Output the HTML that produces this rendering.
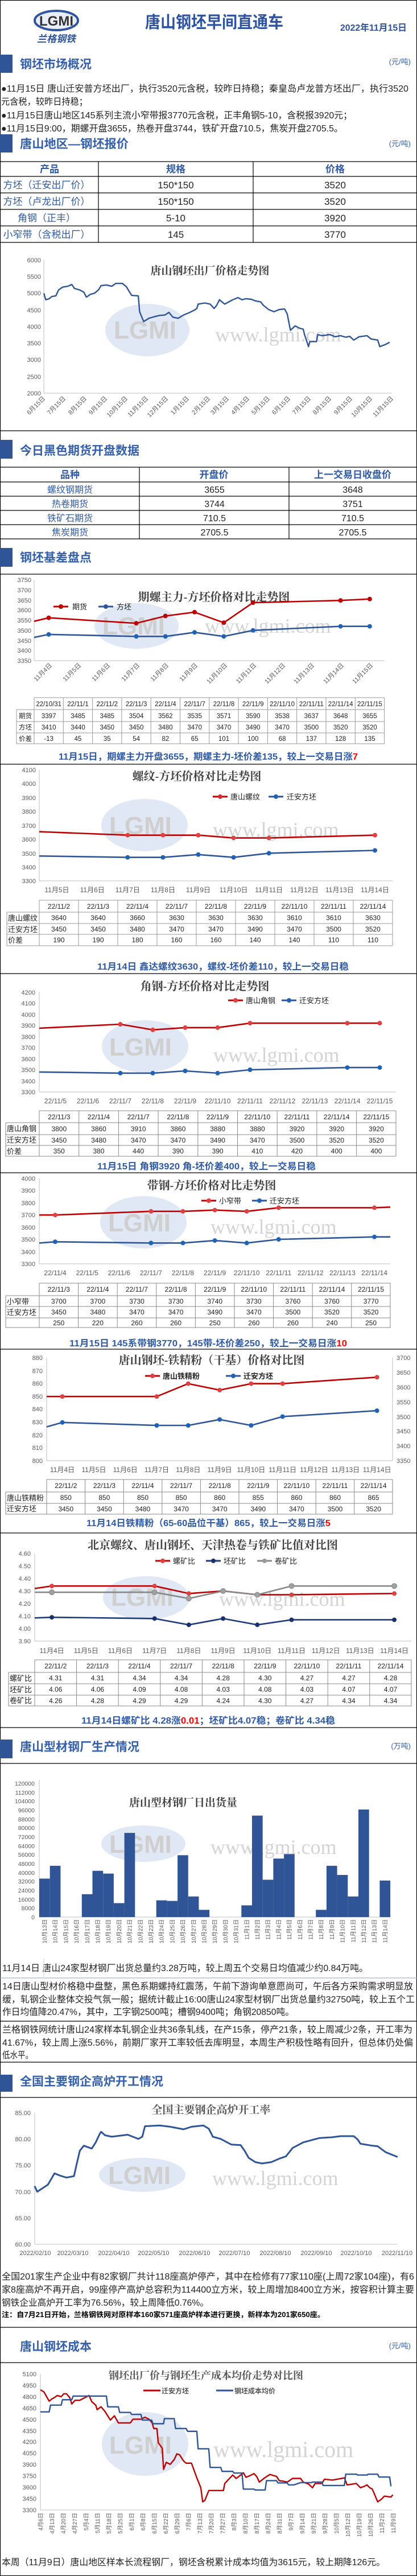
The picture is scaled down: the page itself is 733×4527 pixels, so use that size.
<!DOCTYPE html>
<html><head><meta charset="utf-8">
<style>
html,body{margin:0;padding:0;background:#fff;}
svg{display:block;}
text{font-family:"Liberation Sans","Noto Sans CJK SC",sans-serif;}
.ser{font-family:"Liberation Serif","Noto Serif CJK SC",serif;}
.tk{font-size:11px;fill:#595959;}
.tkr{font-size:11px;fill:#595959;text-anchor:end;}
.td{font-size:12px;fill:#222;text-anchor:middle;}
.tl{font-size:13px;fill:#222;}
.sec{font-size:21px;font-weight:bold;fill:#3460ad;}
.unit{font-size:13px;fill:#3460ad;text-anchor:end;}
.p{font-size:16px;fill:#222;}
.cap{font-size:16px;font-weight:bold;fill:#2f5aa8;}
.ttl{font-size:20px;fill:#404040;text-anchor:middle;font-weight:bold;}
.wm{font-family:"Liberation Serif",serif;font-size:36px;fill:#d4d4d4;}
.wl{font-size:44px;font-weight:bold;fill:#cfcfcf;}
.ax{stroke:#bfbfbf;stroke-width:1;fill:none;}
.gl{stroke:#9a9a9a;stroke-width:1;fill:none;}
.r{stroke:#c00000;stroke-width:2.6;fill:none;stroke-linejoin:round;}
.b{stroke:#2e5597;stroke-width:2.6;fill:none;stroke-linejoin:round;}
.hl{stroke:#000;stroke-width:1.2;}
</style></head>
<body>
<svg width="733" height="4527" viewBox="0 0 733 4527" xmlns="http://www.w3.org/2000/svg">
<rect x="0.5" y="0.5" width="732" height="4526" fill="#fff" stroke="#000" stroke-width="1.2"/>

<!-- header -->
<ellipse cx="99" cy="36" rx="38" ry="17" fill="#e8eef8" stroke="#2f55a0" stroke-width="4"/>
<text x="99" y="45" text-anchor="middle" style="font-size:24px;font-weight:bold;fill:#333">LGMI</text>
<text x="99" y="74" text-anchor="middle" style="font-size:17px;font-weight:bold;fill:#2f55a0;font-style:italic">兰格钢铁</text>
<text x="255" y="49" textLength="243" lengthAdjust="spacingAndGlyphs" style="font-size:29px;font-weight:bold;fill:#2e54a1">唐山钢坯早间直通车</text>
<text x="598" y="54" textLength="117" lengthAdjust="spacingAndGlyphs" style="font-size:16px;font-weight:bold;fill:#2e54a1">2022年11月15日</text>

<!-- section 1 -->
<rect x="0" y="96" width="22" height="32" fill="#2f5597"/>
<text class="sec" x="35" y="120" textLength="126" lengthAdjust="spacingAndGlyphs">钢坯市场概况</text>
<text class="unit" x="722" y="113">(元/吨)</text>
<text class="p" x="2" y="161" textLength="716" lengthAdjust="spacingAndGlyphs">●11月15日 唐山迁安普方坯出厂，执行3520元含税，较昨日持稳；秦皇岛卢龙普方坯出厂，执行3520</text>
<text class="p" x="2" y="184" textLength="152" lengthAdjust="spacingAndGlyphs">元含税，较昨日持稳；</text>
<text class="p" x="2" y="208" textLength="617" lengthAdjust="spacingAndGlyphs">●11月15日唐山地区145系列主流小窄带报3770元含税，正丰角钢5-10，含税报3920元；</text>
<text class="p" x="2" y="231" textLength="601" lengthAdjust="spacingAndGlyphs">●11月15日9:00，期螺开盘3655，热卷开盘3744，铁矿开盘710.5，焦炭开盘2705.5。</text>

<rect x="0" y="236" width="22" height="32" fill="#2f5597"/>
<text class="sec" x="35" y="260" textLength="191" lengthAdjust="spacingAndGlyphs">唐山地区—钢坯报价</text>
<text class="unit" x="722" y="257">(元/吨)</text>

<!-- table 1 -->
<g>
<line class="hl" x1="0" y1="284" x2="733" y2="284"/>
<line class="hl" x1="0" y1="310" x2="733" y2="310"/>
<line class="hl" x1="0" y1="339" x2="733" y2="339"/>
<line class="hl" x1="0" y1="368" x2="733" y2="368"/>
<line class="hl" x1="0" y1="397" x2="733" y2="397"/>
<line class="hl" x1="0" y1="426" x2="733" y2="426"/>
<line class="hl" x1="173" y1="284" x2="173" y2="426"/>
<line class="hl" x1="445" y1="284" x2="445" y2="426"/>
<g style="font-size:17px;font-weight:bold;fill:#2f5aa8" text-anchor="middle">
<text x="87" y="303">产品</text><text x="309" y="303">规格</text><text x="589" y="303">价格</text></g>
<g style="font-size:17px;fill:#2f5aa8" text-anchor="middle">
<text x="82" y="331">方坯（迁安出厂价）</text><text x="82" y="360">方坯（卢龙出厂价）</text>
<text x="82" y="389">角钢（正丰）</text><text x="82" y="418">小窄带（含税出厂）</text></g>
<g style="font-size:17px;fill:#222" text-anchor="middle">
<text x="309" y="331">150*150</text><text x="309" y="360">150*150</text><text x="309" y="389">5-10</text><text x="309" y="418">145</text>
<text x="589" y="331">3520</text><text x="589" y="360">3520</text><text x="589" y="389">3920</text><text x="589" y="418">3770</text></g>
</g>

<!-- chart 1 -->
<text class="ttl ser" x="369" y="482" style="font-size:19px">唐山钢坯出厂价格走势图</text>
<ellipse cx="259" cy="580" rx="74" ry="46" fill="#dfe8f4"/>
<text class="wl" x="200" y="595">LGMI</text>
<text class="wm" x="378" y="600">www.lgmi.com</text>
<line class="ax" x1="77" y1="457" x2="77" y2="691"/>
<line class="ax" x1="77" y1="691" x2="689" y2="691"/>
<g class="tkr">
<text x="72" y="461">6000</text><text x="72" y="490">5500</text><text x="72" y="519">5000</text><text x="72" y="549">4500</text><text x="72" y="578">4000</text><text x="72" y="607">3500</text><text x="72" y="636">3000</text><text x="72" y="666">2500</text><text x="72" y="695">2000</text></g>
<polyline style="stroke:#2e5597;stroke-width:2.4;fill:none;stroke-linejoin:round" points="77.1,515.3 80.4,526.8 86.5,524.9 91.2,521 98.2,519.9 102.9,509.6 109.9,504.6 119.2,503.1 126.2,500 130.9,506.9 140.3,509.6 147.3,513.4 151.9,522.2 159,517.2 166,515.3 173,509.6 177.7,501.9 187,500.8 196.4,503.1 203.4,498.1 215.1,498.1 222.1,503.8 226.7,511.5 231.4,519.1 243.1,519.9 245.4,547.8 252.5,565.1 261.8,559.3 271.2,556.6 280.5,554.3 289.9,553.6 296.9,549 303.9,557.4 313.2,559.3 322.6,553.6 331.9,549.8 341.3,545.2 346,542.1 348.3,534.4 360,532.5 369.3,534.4 376.3,542.1 381,536.4 385.7,526.8 395,534.4 402.1,530.6 409.1,526.8 418.4,523 425.4,526.8 432.4,524.9 441.8,526 448.8,528.7 458.2,530.6 462.8,536.4 472.2,544 481.5,547.8 490.9,544 500.2,542.9 504.9,551.7 510.5,580.4 518.9,572.7 525.9,576.5 533,578.5 535.3,588 542.3,609.1 544.6,600.3 556.3,600.3 558.7,588 565.7,589.9 579.7,588 589.1,591.8 598.4,589.9 607.8,592.6 614.8,591.1 621.8,597.6 631.1,591.8 645.2,589.9 652.2,595.7 663.9,597.6 667.6,609.1 677.9,605.2 684.9,601.4"/>
<g class="tk" text-anchor="end">
<text transform="translate(80,701) rotate(-45)">6月15日</text>
<text transform="translate(116,701) rotate(-45)">7月15日</text>
<text transform="translate(153,701) rotate(-45)">8月15日</text>
<text transform="translate(189,701) rotate(-45)">9月15日</text>
<text transform="translate(225,701) rotate(-45)">10月15日</text>
<text transform="translate(261,701) rotate(-45)">11月15日</text>
<text transform="translate(296,701) rotate(-45)">12月15日</text>
<text transform="translate(333,701) rotate(-45)">1月15日</text>
<text transform="translate(370,701) rotate(-45)">2月15日</text>
<text transform="translate(403,701) rotate(-45)">3月15日</text>
<text transform="translate(439,701) rotate(-45)">4月15日</text>
<text transform="translate(475,701) rotate(-45)">5月15日</text>
<text transform="translate(511,701) rotate(-45)">6月15日</text>
<text transform="translate(547,701) rotate(-45)">7月15日</text>
<text transform="translate(583,701) rotate(-45)">8月15日</text>
<text transform="translate(620,701) rotate(-45)">9月15日</text>
<text transform="translate(655,701) rotate(-45)">10月15日</text>
<text transform="translate(692,701) rotate(-45)">11月15日</text>
</g>
<line class="hl" x1="0" y1="757" x2="733" y2="757"/>

<!-- section futures -->
<rect x="0" y="773" width="22" height="33" fill="#2f5597"/>
<text class="sec" x="35" y="799" textLength="210" lengthAdjust="spacingAndGlyphs">今日黑色期货开盘数据</text>
<g>
<line class="hl" x1="0" y1="821" x2="733" y2="821"/>
<line class="hl" x1="0" y1="847" x2="733" y2="847"/>
<line class="hl" x1="0" y1="872" x2="733" y2="872"/>
<line class="hl" x1="0" y1="897" x2="733" y2="897"/>
<line class="hl" x1="0" y1="922" x2="733" y2="922"/>
<line class="hl" x1="0" y1="947" x2="733" y2="947"/>
<line class="hl" x1="245" y1="821" x2="245" y2="947"/>
<line class="hl" x1="508" y1="821" x2="508" y2="947"/>
<g style="font-size:17px;font-weight:bold;fill:#2f5aa8" text-anchor="middle">
<text x="123" y="840">品种</text><text x="376" y="840">开盘价</text><text x="620" y="840">上一交易日收盘价</text></g>
<g style="font-size:16px;fill:#2f5aa8" text-anchor="middle">
<text x="123" y="866">螺纹钢期货</text><text x="123" y="891">热卷期货</text><text x="123" y="916">铁矿石期货</text><text x="123" y="941">焦炭期货</text></g>
<g style="font-size:16px;fill:#222" text-anchor="middle">
<text x="377" y="866">3655</text><text x="377" y="891">3744</text><text x="377" y="916">710.5</text><text x="377" y="941">2705.5</text>
<text x="620" y="866">3648</text><text x="620" y="891">3751</text><text x="620" y="916">710.5</text><text x="620" y="941">2705.5</text></g>
</g>

<rect x="0" y="963" width="22" height="33" fill="#2f5597"/>
<text class="sec" x="35" y="987" textLength="126" lengthAdjust="spacingAndGlyphs">钢坯基差盘点</text>
<line class="hl" x1="0" y1="1009" x2="733" y2="1009"/>

<!-- chart 3 期螺-方坯 -->
<ellipse cx="240" cy="1100" rx="74" ry="40" fill="#dfe8f4"/>
<text class="wl" x="180" y="1115">LGMI</text>
<text class="wm" x="360" y="1112">www.lgmi.com</text>
<text class="ttl ser" x="376" y="1056" style="font-size:20px">期螺主力-方坯价格对比走势图</text>
<line x1="94" y1="1066" x2="120" y2="1066" stroke="#c00000" stroke-width="3"/><circle cx="107" cy="1066" r="4" fill="#c00000"/>
<text class="tl" x="127" y="1071">期货</text>
<line x1="173" y1="1066" x2="199" y2="1066" stroke="#2e5597" stroke-width="3"/><circle cx="186" cy="1066" r="4" fill="#2e5597"/>
<text class="tl" x="205" y="1071">方坯</text>
<line class="ax" x1="60" y1="1019" x2="60" y2="1161"/>
<line class="ax" x1="60" y1="1161" x2="676" y2="1161"/>
<g class="tkr"><text x="55" y="1023">3750</text><text x="55" y="1041">3700</text><text x="55" y="1059">3650</text><text x="55" y="1076">3600</text><text x="55" y="1094">3550</text><text x="55" y="1112">3500</text><text x="55" y="1130">3450</text><text x="55" y="1147">3400</text><text x="55" y="1165">3350</text></g>
<polyline class="r" points="60,1091.8 85.6,1085.7 239.5,1095.3 290.8,1082.5 342,1075.8 393.4,1094.3 444.7,1059.1 598.6,1055.2 649.9,1052.7"/>
<polyline class="b" points="60,1120.2 85.6,1114.9 239.5,1118.4 290.8,1118.4 342,1111.3 393.4,1118.4 444.7,1107.8 598.6,1100.7 649.9,1100.7"/>
<g fill="#c00000"><circle cx="85.6" cy="1085.7" r="4"/><circle cx="239.5" cy="1095.3" r="4"/><circle cx="290.8" cy="1082.5" r="4"/><circle cx="342" cy="1075.8" r="4"/><circle cx="393.4" cy="1094.3" r="4"/><circle cx="444.7" cy="1059.1" r="4"/><circle cx="598.6" cy="1055.2" r="4"/><circle cx="649.9" cy="1052.7" r="4"/></g>
<g fill="#1f63b8"><circle cx="85.6" cy="1114.9" r="4"/><circle cx="239.5" cy="1118.4" r="4"/><circle cx="290.8" cy="1118.4" r="4"/><circle cx="342" cy="1111.3" r="4"/><circle cx="393.4" cy="1118.4" r="4"/><circle cx="444.7" cy="1107.8" r="4"/><circle cx="598.6" cy="1100.7" r="4"/><circle cx="649.9" cy="1100.7" r="4"/></g>
<g class="tk" text-anchor="end">
<text transform="translate(92,1170) rotate(-45)">11月4日</text><text transform="translate(143,1170) rotate(-45)">11月5日</text><text transform="translate(194,1170) rotate(-45)">11月6日</text><text transform="translate(246,1170) rotate(-45)">11月7日</text><text transform="translate(297,1170) rotate(-45)">11月8日</text><text transform="translate(348,1170) rotate(-45)">11月9日</text><text transform="translate(400,1170) rotate(-45)">11月10日</text><text transform="translate(451,1170) rotate(-45)">11月11日</text><text transform="translate(502,1170) rotate(-45)">11月12日</text><text transform="translate(553,1170) rotate(-45)">11月13日</text><text transform="translate(605,1170) rotate(-45)">11月14日</text><text transform="translate(656,1170) rotate(-45)">11月15日</text></g>
<g class="gl">
<line x1="60" y1="1226" x2="676" y2="1226"/><line x1="29" y1="1247" x2="676" y2="1247"/><line x1="29" y1="1268" x2="676" y2="1268"/><line x1="29" y1="1288" x2="676" y2="1288"/><line x1="29" y1="1307" x2="676" y2="1307"/>
<line x1="29" y1="1247" x2="29" y2="1307"/><line x1="60" y1="1226" x2="60" y2="1307"/><line x1="111.3" y1="1226" x2="111.3" y2="1307"/><line x1="162.6" y1="1226" x2="162.6" y2="1307"/><line x1="213.9" y1="1226" x2="213.9" y2="1307"/><line x1="265.2" y1="1226" x2="265.2" y2="1307"/><line x1="316.5" y1="1226" x2="316.5" y2="1307"/><line x1="367.8" y1="1226" x2="367.8" y2="1307"/><line x1="419.1" y1="1226" x2="419.1" y2="1307"/><line x1="470.4" y1="1226" x2="470.4" y2="1307"/><line x1="521.7" y1="1226" x2="521.7" y2="1307"/><line x1="573" y1="1226" x2="573" y2="1307"/><line x1="624.3" y1="1226" x2="624.3" y2="1307"/><line x1="675.6" y1="1226" x2="675.6" y2="1307"/></g>
<g class="td" style="font-size:11.5px">
<text x="85.7" y="1241">22/10/31</text><text x="137" y="1241">22/11/1</text><text x="188.3" y="1241">22/11/2</text><text x="239.6" y="1241">22/11/3</text><text x="290.9" y="1241">22/11/4</text><text x="342.2" y="1241">22/11/7</text><text x="393.5" y="1241">22/11/8</text><text x="444.8" y="1241">22/11/9</text><text x="496.1" y="1241">22/11/10</text><text x="547.4" y="1241">22/11/11</text><text x="598.7" y="1241">22/11/14</text><text x="650" y="1241">22/11/15</text>
<text x="85.7" y="1262">3397</text><text x="137" y="1262">3485</text><text x="188.3" y="1262">3485</text><text x="239.6" y="1262">3504</text><text x="290.9" y="1262">3562</text><text x="342.2" y="1262">3535</text><text x="393.5" y="1262">3571</text><text x="444.8" y="1262">3590</text><text x="496.1" y="1262">3538</text><text x="547.4" y="1262">3637</text><text x="598.7" y="1262">3648</text><text x="650" y="1262">3655</text>
<text x="85.7" y="1282">3410</text><text x="137" y="1282">3440</text><text x="188.3" y="1282">3450</text><text x="239.6" y="1282">3450</text><text x="290.9" y="1282">3480</text><text x="342.2" y="1282">3470</text><text x="393.5" y="1282">3470</text><text x="444.8" y="1282">3490</text><text x="496.1" y="1282">3470</text><text x="547.4" y="1282">3500</text><text x="598.7" y="1282">3520</text><text x="650" y="1282">3520</text>
<text x="85.7" y="1302">-13</text><text x="137" y="1302">45</text><text x="188.3" y="1302">35</text><text x="239.6" y="1302">54</text><text x="290.9" y="1302">82</text><text x="342.2" y="1302">65</text><text x="393.5" y="1302">101</text><text x="444.8" y="1302">100</text><text x="496.1" y="1302">68</text><text x="547.4" y="1302">137</text><text x="598.7" y="1302">128</text><text x="650" y="1302">135</text>
<text x="44.5" y="1262">期货</text><text x="44.5" y="1282">方坯</text><text x="44.5" y="1302">价差</text></g>
<text class="cap" x="103" y="1335" textLength="526" lengthAdjust="spacingAndGlyphs">11月15日，期螺主力开盘3655，期螺主力-坯价差135，较上一交易日涨<tspan fill="#ff0000">7</tspan></text>
<line class="hl" x1="0" y1="1343" x2="733" y2="1343"/>

<!-- chart 4 螺纹 -->
<ellipse cx="254" cy="1450" rx="76" ry="46" fill="#dfe8f4"/>
<text class="wl" x="192" y="1466">LGMI</text>
<text class="wm" x="374" y="1470">www.lgmi.com</text>
<text class="ttl ser" x="346" y="1371" style="font-size:20px">螺纹-方坯价格对比走势图</text>
<line x1="374" y1="1400" x2="400" y2="1400" stroke="#c00000" stroke-width="3"/><circle cx="387" cy="1400" r="4" fill="#d03030"/>
<text class="tl" x="405" y="1405">唐山螺纹</text>
<line x1="472" y1="1400" x2="498" y2="1400" stroke="#2e5597" stroke-width="3"/><circle cx="485" cy="1400" r="4" fill="#1f63b8"/>
<text class="tl" x="504" y="1405">迁安方坯</text>
<line class="ax" x1="69" y1="1353" x2="69" y2="1548"/>
<line class="ax" x1="69" y1="1548" x2="690" y2="1548"/>
<g class="tkr"><text x="63" y="1357">4100</text><text x="63" y="1381">4000</text><text x="63" y="1406">3900</text><text x="63" y="1430">3800</text><text x="63" y="1455">3700</text><text x="63" y="1479">3600</text><text x="63" y="1504">3500</text><text x="63" y="1528">3400</text><text x="63" y="1552">3300</text></g>
<polyline class="r" points="69,1461.6 224.3,1467.7 286.4,1467.7 348.5,1467.7 410.6,1472.6 472.7,1472.6 659,1467.7"/>
<polyline class="b" points="69,1504.3 224.3,1506.7 286.4,1506.7 348.5,1501.8 410.6,1506.7 472.7,1499.4 659,1494.5"/>
<g fill="#e04040"><circle cx="224.3" cy="1467.7" r="4"/><circle cx="286.4" cy="1467.7" r="4"/><circle cx="348.5" cy="1467.7" r="4"/><circle cx="410.6" cy="1472.6" r="4"/><circle cx="472.7" cy="1472.6" r="4"/><circle cx="659" cy="1467.7" r="4"/></g>
<g fill="#1f63b8"><circle cx="224.3" cy="1506.7" r="4"/><circle cx="286.4" cy="1506.7" r="4"/><circle cx="348.5" cy="1501.8" r="4"/><circle cx="410.6" cy="1506.7" r="4"/><circle cx="472.7" cy="1499.4" r="4"/><circle cx="659" cy="1494.5" r="4"/></g>
<g class="tk" text-anchor="middle" style="font-size:12px"><text x="100" y="1568">11月5日</text><text x="162.2" y="1568">11月6日</text><text x="224.3" y="1568">11月7日</text><text x="286.4" y="1568">11月8日</text><text x="348.5" y="1568">11月9日</text><text x="410.6" y="1568">11月10日</text><text x="472.7" y="1568">11月11日</text><text x="534.8" y="1568">11月12日</text><text x="596.9" y="1568">11月13日</text><text x="659" y="1568">11月14日</text></g>
<g class="gl">
<line x1="69" y1="1582" x2="690" y2="1582"/><line x1="12" y1="1603" x2="690" y2="1603"/><line x1="12" y1="1623" x2="690" y2="1623"/><line x1="12" y1="1642" x2="690" y2="1642"/><line x1="12" y1="1662" x2="690" y2="1662"/>
<line x1="12" y1="1603" x2="12" y2="1662"/><line x1="69" y1="1582" x2="69" y2="1662"/><line x1="138" y1="1582" x2="138" y2="1662"/><line x1="207" y1="1582" x2="207" y2="1662"/><line x1="276" y1="1582" x2="276" y2="1662"/><line x1="345" y1="1582" x2="345" y2="1662"/><line x1="414" y1="1582" x2="414" y2="1662"/><line x1="483" y1="1582" x2="483" y2="1662"/><line x1="552" y1="1582" x2="552" y2="1662"/><line x1="621" y1="1582" x2="621" y2="1662"/><line x1="690" y1="1582" x2="690" y2="1662"/></g>
<g class="td">
<text x="103.5" y="1597">22/11/2</text><text x="172.5" y="1597">22/11/3</text><text x="241.5" y="1597">22/11/4</text><text x="310.5" y="1597">22/11/7</text><text x="379.5" y="1597">22/11/8</text><text x="448.5" y="1597">22/11/9</text><text x="517.5" y="1597">22/11/10</text><text x="586.5" y="1597">22/11/11</text><text x="655.5" y="1597">22/11/14</text>
<text x="103.5" y="1617">3640</text><text x="172.5" y="1617">3640</text><text x="241.5" y="1617">3660</text><text x="310.5" y="1617">3630</text><text x="379.5" y="1617">3630</text><text x="448.5" y="1617">3630</text><text x="517.5" y="1617">3610</text><text x="586.5" y="1617">3610</text><text x="655.5" y="1617">3630</text>
<text x="103.5" y="1637">3450</text><text x="172.5" y="1637">3450</text><text x="241.5" y="1637">3480</text><text x="310.5" y="1637">3470</text><text x="379.5" y="1637">3470</text><text x="448.5" y="1637">3490</text><text x="517.5" y="1637">3470</text><text x="586.5" y="1637">3500</text><text x="655.5" y="1637">3520</text>
<text x="103.5" y="1656">190</text><text x="172.5" y="1656">190</text><text x="241.5" y="1656">180</text><text x="310.5" y="1656">160</text><text x="379.5" y="1656">160</text><text x="448.5" y="1656">140</text><text x="517.5" y="1656">140</text><text x="586.5" y="1656">110</text><text x="655.5" y="1656">110</text></g>
<g class="tl"><text x="14" y="1618">唐山螺纹</text><text x="14" y="1638">迁安方坯</text><text x="14" y="1657">价差</text></g>
<text class="cap" x="171" y="1704" textLength="442" lengthAdjust="spacingAndGlyphs">11月14日 鑫达螺纹3630，螺纹-坯价差110，较上一交易日稳</text>
<line class="hl" x1="0" y1="1711" x2="733" y2="1711"/>

<!-- chart 5 角钢 -->
<ellipse cx="255" cy="1839" rx="76" ry="46" fill="#dfe8f4"/>
<text class="wl" x="192" y="1855">LGMI</text>
<text class="wm" x="375" y="1866">www.lgmi.com</text>
<text class="ttl ser" x="360" y="1740" style="font-size:20px">角钢-方坯价格对比走势图</text>
<line x1="401" y1="1758" x2="427" y2="1758" stroke="#c00000" stroke-width="3"/><circle cx="414" cy="1758" r="4" fill="#e04040"/>
<text class="tl" x="432" y="1763">唐山角钢</text>
<line x1="495" y1="1758" x2="521" y2="1758" stroke="#2e5597" stroke-width="3"/><circle cx="508" cy="1758" r="4" fill="#1f63b8"/>
<text class="tl" x="526" y="1763">迁安方坯</text>
<line class="ax" x1="69" y1="1743" x2="69" y2="1919"/>
<line class="ax" x1="69" y1="1919" x2="696" y2="1919"/>
<g class="tkr"><text x="62" y="1748">4200</text><text x="62" y="1767">4100</text><text x="62" y="1787">4000</text><text x="62" y="1806">3900</text><text x="62" y="1826">3800</text><text x="62" y="1845">3700</text><text x="62" y="1865">3600</text><text x="62" y="1884">3500</text><text x="62" y="1904">3400</text><text x="62" y="1923">3300</text></g>
<polyline class="r" points="69,1806.9 211.5,1800 268.5,1809.8 325.5,1805.9 382.5,1805.9 439.5,1798.1 610.5,1798.1 667.5,1798.1"/>
<polyline class="b" points="69,1883.9 211.5,1885.9 268.5,1885.9 325.5,1882 382.5,1885.9 439.5,1880 610.5,1876.1 667.5,1876.1"/>
<g fill="#e04040"><circle cx="211.5" cy="1800" r="4"/><circle cx="268.5" cy="1809.8" r="4"/><circle cx="325.5" cy="1805.9" r="4"/><circle cx="382.5" cy="1805.9" r="4"/><circle cx="439.5" cy="1798.1" r="4"/><circle cx="610.5" cy="1798.1" r="4"/><circle cx="667.5" cy="1798.1" r="4"/></g>
<g fill="#1f63b8"><circle cx="211.5" cy="1885.9" r="4"/><circle cx="268.5" cy="1885.9" r="4"/><circle cx="325.5" cy="1882" r="4"/><circle cx="382.5" cy="1885.9" r="4"/><circle cx="439.5" cy="1880" r="4"/><circle cx="610.5" cy="1876.1" r="4"/><circle cx="667.5" cy="1876.1" r="4"/></g>
<g class="tk" text-anchor="middle" style="font-size:12px"><text x="97.5" y="1939">22/11/5</text><text x="154.5" y="1939">22/11/6</text><text x="211.5" y="1939">22/11/7</text><text x="268.5" y="1939">22/11/8</text><text x="325.5" y="1939">22/11/9</text><text x="382.5" y="1939">22/11/10</text><text x="439.5" y="1939">22/11/11</text><text x="496.5" y="1939">22/11/12</text><text x="553.5" y="1939">22/11/13</text><text x="610.5" y="1939">22/11/14</text><text x="667.5" y="1939">22/11/15</text></g>
<g class="gl" style="stroke:#8a8a8a">
<line x1="69" y1="1952" x2="696" y2="1952"/><line x1="10" y1="1973" x2="696" y2="1973"/><line x1="10" y1="1994" x2="696" y2="1994"/><line x1="10" y1="2013" x2="696" y2="2013"/><line x1="10" y1="2032" x2="696" y2="2032"/>
<line x1="10" y1="1973" x2="10" y2="2032"/><line x1="69" y1="1952" x2="69" y2="2032"/><line x1="138.7" y1="1952" x2="138.7" y2="2032"/><line x1="208.4" y1="1952" x2="208.4" y2="2032"/><line x1="278.1" y1="1952" x2="278.1" y2="2032"/><line x1="347.8" y1="1952" x2="347.8" y2="2032"/><line x1="417.5" y1="1952" x2="417.5" y2="2032"/><line x1="487.2" y1="1952" x2="487.2" y2="2032"/><line x1="556.9" y1="1952" x2="556.9" y2="2032"/><line x1="626.6" y1="1952" x2="626.6" y2="2032"/><line x1="696" y1="1952" x2="696" y2="2032"/></g>
<g class="td">
<text x="103.8" y="1967">22/11/3</text><text x="173.5" y="1967">22/11/4</text><text x="243.2" y="1967">22/11/7</text><text x="312.9" y="1967">22/11/8</text><text x="382.6" y="1967">22/11/9</text><text x="452.3" y="1967">22/11/10</text><text x="522" y="1967">22/11/11</text><text x="591.7" y="1967">22/11/14</text><text x="661.4" y="1967">22/11/15</text>
<text x="103.8" y="1988">3800</text><text x="173.5" y="1988">3860</text><text x="243.2" y="1988">3910</text><text x="312.9" y="1988">3860</text><text x="382.6" y="1988">3880</text><text x="452.3" y="1988">3880</text><text x="522" y="1988">3920</text><text x="591.7" y="1988">3920</text><text x="661.4" y="1988">3920</text>
<text x="103.8" y="2008">3450</text><text x="173.5" y="2008">3480</text><text x="243.2" y="2008">3470</text><text x="312.9" y="2008">3470</text><text x="382.6" y="2008">3490</text><text x="452.3" y="2008">3470</text><text x="522" y="2008">3500</text><text x="591.7" y="2008">3520</text><text x="661.4" y="2008">3520</text>
<text x="103.8" y="2027">350</text><text x="173.5" y="2027">380</text><text x="243.2" y="2027">440</text><text x="312.9" y="2027">390</text><text x="382.6" y="2027">390</text><text x="452.3" y="2027">410</text><text x="522" y="2027">420</text><text x="591.7" y="2027">400</text><text x="661.4" y="2027">400</text></g>
<g class="tl"><text x="12" y="1988">唐山角钢</text><text x="12" y="2008">迁安方坯</text><text x="12" y="2028">价差</text></g>
<text class="cap" x="171" y="2055" textLength="384" lengthAdjust="spacingAndGlyphs">11月15日 角钢3920 角-坯价差400，较上一交易日稳</text>
<line class="hl" x1="0" y1="2061" x2="733" y2="2061"/>

<!-- chart 6 带钢 -->
<ellipse cx="252" cy="2148" rx="76" ry="46" fill="#dfe8f4"/>
<text class="wl" x="190" y="2164">LGMI</text>
<text class="wm" x="370" y="2168">www.lgmi.com</text>
<text class="ttl ser" x="372" y="2090" style="font-size:20px">带钢-方坯价格对比走势图</text>
<line x1="354" y1="2110" x2="380" y2="2110" stroke="#c00000" stroke-width="3"/><circle cx="367" cy="2110" r="4" fill="#e04040"/>
<text class="tl" x="385" y="2115">小窄带</text>
<line x1="443" y1="2110" x2="469" y2="2110" stroke="#2e5597" stroke-width="3"/><circle cx="456" cy="2110" r="4" fill="#1f63b8"/>
<text class="tl" x="474" y="2115">迁安方坯</text>
<line class="ax" x1="69" y1="2071" x2="69" y2="2221"/>
<line class="ax" x1="69" y1="2221" x2="686" y2="2221"/>
<g class="tkr"><text x="62" y="2075">4000</text><text x="62" y="2096">3900</text><text x="62" y="2118">3800</text><text x="62" y="2139">3700</text><text x="62" y="2161">3600</text><text x="62" y="2182">3500</text><text x="62" y="2204">3400</text><text x="62" y="2225">3300</text></g>
<polyline class="r" points="69,2135.2 97,2135.2 265.4,2128.8 321.5,2128.8 377.6,2126.6 433.7,2128.8 489.8,2122.4 658.1,2122.4 686,2121.3"/>
<polyline class="b" points="69,2184.4 97,2182.3 265.4,2184.4 321.5,2184.4 377.6,2180.1 433.7,2184.4 489.8,2178 658.1,2173.7 686,2173.7"/>
<g fill="#e04040"><circle cx="97" cy="2135.2" r="4"/><circle cx="265.4" cy="2128.8" r="4"/><circle cx="321.5" cy="2128.8" r="4"/><circle cx="377.6" cy="2126.6" r="4"/><circle cx="433.7" cy="2128.8" r="4"/><circle cx="489.8" cy="2122.4" r="4"/><circle cx="658.1" cy="2122.4" r="4"/></g>
<g fill="#1f63b8"><circle cx="97" cy="2182.3" r="4"/><circle cx="265.4" cy="2184.4" r="4"/><circle cx="321.5" cy="2184.4" r="4"/><circle cx="377.6" cy="2180.1" r="4"/><circle cx="433.7" cy="2184.4" r="4"/><circle cx="489.8" cy="2178" r="4"/><circle cx="658.1" cy="2173.7" r="4"/></g>
<g class="tk" text-anchor="middle" style="font-size:12px"><text x="97" y="2241">22/11/4</text><text x="153.2" y="2241">22/11/5</text><text x="209.3" y="2241">22/11/6</text><text x="265.4" y="2241">22/11/7</text><text x="321.5" y="2241">22/11/8</text><text x="377.6" y="2241">22/11/9</text><text x="433.7" y="2241">22/11/10</text><text x="489.8" y="2241">22/11/11</text><text x="545.9" y="2241">22/11/12</text><text x="602" y="2241">22/11/13</text><text x="658.1" y="2241">22/11/14</text></g>
<g class="gl" style="stroke:#8a8a8a">
<line x1="69" y1="2255" x2="686" y2="2255"/><line x1="10" y1="2277" x2="686" y2="2277"/><line x1="10" y1="2296" x2="686" y2="2296"/><line x1="10" y1="2316" x2="686" y2="2316"/><line x1="10" y1="2333" x2="686" y2="2333"/>
<line x1="10" y1="2277" x2="10" y2="2333"/><line x1="69" y1="2255" x2="69" y2="2333"/><line x1="137.6" y1="2255" x2="137.6" y2="2333"/><line x1="206.2" y1="2255" x2="206.2" y2="2333"/><line x1="274.8" y1="2255" x2="274.8" y2="2333"/><line x1="343.4" y1="2255" x2="343.4" y2="2333"/><line x1="412" y1="2255" x2="412" y2="2333"/><line x1="480.6" y1="2255" x2="480.6" y2="2333"/><line x1="549.2" y1="2255" x2="549.2" y2="2333"/><line x1="617.8" y1="2255" x2="617.8" y2="2333"/><line x1="686" y1="2255" x2="686" y2="2333"/></g>
<g class="td">
<text x="103.3" y="2270">22/11/3</text><text x="171.9" y="2270">22/11/4</text><text x="240.5" y="2270">22/11/7</text><text x="309.1" y="2270">22/11/8</text><text x="377.7" y="2270">22/11/9</text><text x="446.3" y="2270">22/11/10</text><text x="514.9" y="2270">22/11/11</text><text x="583.5" y="2270">22/11/14</text><text x="652.1" y="2270">22/11/15</text>
<text x="103.3" y="2291">3700</text><text x="171.9" y="2291">3700</text><text x="240.5" y="2291">3730</text><text x="309.1" y="2291">3730</text><text x="377.7" y="2291">3740</text><text x="446.3" y="2291">3730</text><text x="514.9" y="2291">3760</text><text x="583.5" y="2291">3760</text><text x="652.1" y="2291">3770</text>
<text x="103.3" y="2310">3450</text><text x="171.9" y="2310">3480</text><text x="240.5" y="2310">3470</text><text x="309.1" y="2310">3470</text><text x="377.7" y="2310">3490</text><text x="446.3" y="2310">3470</text><text x="514.9" y="2310">3500</text><text x="583.5" y="2310">3520</text><text x="652.1" y="2310">3520</text>
<text x="103.3" y="2329">250</text><text x="171.9" y="2329">220</text><text x="240.5" y="2329">260</text><text x="309.1" y="2329">260</text><text x="377.7" y="2329">250</text><text x="446.3" y="2329">260</text><text x="514.9" y="2329">260</text><text x="583.5" y="2329">240</text><text x="652.1" y="2329">250</text></g>
<g class="tl"><text x="12" y="2292">小窄带</text><text x="12" y="2311">迁安方坯</text></g>
<text class="cap" x="122" y="2366" textLength="488" lengthAdjust="spacingAndGlyphs">11月15日 145系带钢3770，145带-坯价差250，较上一交易日涨<tspan fill="#ff0000">10</tspan></text>
<line class="hl" x1="0" y1="2371" x2="733" y2="2371"/>

<!-- chart 7 铁精粉 -->
<text class="ttl ser" x="372" y="2397" style="font-size:20px">唐山钢坯-铁精粉（干基）价格对比图</text>
<line x1="255" y1="2418" x2="281" y2="2418" stroke="#c00000" stroke-width="3"/><circle cx="268" cy="2418" r="4" fill="#e04040"/>
<text class="tl" x="286" y="2423" style="font-weight:bold">唐山铁精粉</text>
<line x1="397" y1="2418" x2="423" y2="2418" stroke="#2e5597" stroke-width="3"/><circle cx="410" cy="2418" r="4" fill="#1f63b8"/>
<text class="tl" x="428" y="2423" style="font-weight:bold">迁安方坯</text>
<line class="ax" x1="82" y1="2386" x2="82" y2="2567"/>
<line class="ax" x1="690" y1="2386" x2="690" y2="2567"/>
<line class="ax" x1="82" y1="2567" x2="690" y2="2567"/>
<g class="tkr"><text x="75" y="2390">880</text><text x="75" y="2413">870</text><text x="75" y="2435">860</text><text x="75" y="2458">850</text><text x="75" y="2480">840</text><text x="75" y="2503">830</text><text x="75" y="2526">820</text><text x="75" y="2548">810</text><text x="75" y="2571">800</text></g>
<g class="tk"><text x="697" y="2390">3700</text><text x="697" y="2416">3650</text><text x="697" y="2442">3600</text><text x="697" y="2468">3550</text><text x="697" y="2494">3500</text><text x="697" y="2519">3450</text><text x="697" y="2545">3400</text><text x="697" y="2571">3350</text></g>
<polyline class="r" points="82,2454.2 109.6,2454.2 275.5,2454.2 330.8,2431.6 386.1,2442.9 441.4,2431.6 496.7,2431.6 662.6,2420.3"/>
<polyline class="b" points="82,2507.5 109.6,2499.8 275.5,2505 330.8,2505 386.1,2494.6 441.4,2505 496.7,2489.5 662.6,2479.1"/>
<g fill="#e04040"><circle cx="109.6" cy="2454.2" r="4"/><circle cx="275.5" cy="2454.2" r="4"/><circle cx="330.8" cy="2431.6" r="4"/><circle cx="386.1" cy="2442.9" r="4"/><circle cx="441.4" cy="2431.6" r="4"/><circle cx="496.7" cy="2431.6" r="4"/><circle cx="662.6" cy="2420.3" r="4"/></g>
<g fill="#1f63b8"><circle cx="109.6" cy="2499.8" r="4"/><circle cx="275.5" cy="2505" r="4"/><circle cx="330.8" cy="2505" r="4"/><circle cx="386.1" cy="2494.6" r="4"/><circle cx="441.4" cy="2505" r="4"/><circle cx="496.7" cy="2489.5" r="4"/><circle cx="662.6" cy="2479.1" r="4"/></g>
<g class="tk" text-anchor="middle" style="font-size:12px"><text x="109.6" y="2587">11月4日</text><text x="164.9" y="2587">11月5日</text><text x="220.2" y="2587">11月6日</text><text x="275.5" y="2587">11月7日</text><text x="330.8" y="2587">11月8日</text><text x="386.1" y="2587">11月9日</text><text x="441.4" y="2587">11月10日</text><text x="496.7" y="2587">11月11日</text><text x="552" y="2587">11月12日</text><text x="607.3" y="2587">11月13日</text><text x="662.6" y="2587">11月14日</text></g>
<g class="gl" style="stroke:#8a8a8a">
<line x1="82" y1="2600" x2="690" y2="2600"/><line x1="10" y1="2622" x2="690" y2="2622"/><line x1="10" y1="2642" x2="690" y2="2642"/><line x1="10" y1="2661" x2="690" y2="2661"/>
<line x1="10" y1="2622" x2="10" y2="2661"/><line x1="82" y1="2600" x2="82" y2="2661"/><line x1="149.6" y1="2600" x2="149.6" y2="2661"/><line x1="217.2" y1="2600" x2="217.2" y2="2661"/><line x1="284.8" y1="2600" x2="284.8" y2="2661"/><line x1="352.4" y1="2600" x2="352.4" y2="2661"/><line x1="420" y1="2600" x2="420" y2="2661"/><line x1="487.6" y1="2600" x2="487.6" y2="2661"/><line x1="555.2" y1="2600" x2="555.2" y2="2661"/><line x1="622.8" y1="2600" x2="622.8" y2="2661"/><line x1="690" y1="2600" x2="690" y2="2661"/></g>
<g class="td">
<text x="115.8" y="2615">22/11/2</text><text x="183.4" y="2615">22/11/3</text><text x="251" y="2615">22/11/4</text><text x="318.6" y="2615">22/11/7</text><text x="386.2" y="2615">22/11/8</text><text x="453.8" y="2615">22/11/9</text><text x="521.4" y="2615">22/11/10</text><text x="589" y="2615">22/11/11</text><text x="656.6" y="2615">22/11/14</text>
<text x="115.8" y="2636">850</text><text x="183.4" y="2636">850</text><text x="251" y="2636">850</text><text x="318.6" y="2636">850</text><text x="386.2" y="2636">860</text><text x="453.8" y="2636">855</text><text x="521.4" y="2636">860</text><text x="589" y="2636">860</text><text x="656.6" y="2636">865</text>
<text x="115.8" y="2656">3450</text><text x="183.4" y="2656">3450</text><text x="251" y="2656">3480</text><text x="318.6" y="2656">3470</text><text x="386.2" y="2656">3470</text><text x="453.8" y="2656">3490</text><text x="521.4" y="2656">3470</text><text x="589" y="2656">3500</text><text x="656.6" y="2656">3520</text></g>
<g class="tl"><text x="12" y="2637">唐山铁精粉</text><text x="12" y="2656">迁安方坯</text></g>
<text class="cap" x="152" y="2682" textLength="429" lengthAdjust="spacingAndGlyphs">11月14日铁精粉（65-60品位干基）865，较上一交易日涨<tspan fill="#ff0000">5</tspan></text>
<line class="hl" x1="0" y1="2694" x2="733" y2="2694"/>

<!-- chart 8 比值 -->
<ellipse cx="257" cy="2808" rx="76" ry="38" fill="#dfe8f4"/>
<text class="wl" x="195" y="2822">LGMI</text>
<text class="wm" x="385" y="2822">www.lgmi.com</text>
<text class="ttl ser" x="374" y="2722" style="font-size:20px">北京螺纹、唐山钢坯、天津热卷与铁矿比值对比图</text>
<line x1="273" y1="2743" x2="299" y2="2743" stroke="#c00000" stroke-width="3"/><circle cx="286" cy="2743" r="4" fill="#e04040"/>
<text class="tl" x="304" y="2748">螺矿比</text>
<line x1="362" y1="2743" x2="388" y2="2743" stroke="#1f3a7a" stroke-width="3"/><circle cx="375" cy="2743" r="4" fill="#1a2f6e"/>
<text class="tl" x="393" y="2748">坯矿比</text>
<line x1="452" y1="2743" x2="478" y2="2743" stroke="#888" stroke-width="3"/><circle cx="465" cy="2743" r="4" fill="#999"/>
<text class="tl" x="483" y="2748">卷矿比</text>
<line class="ax" x1="61" y1="2730" x2="61" y2="2884"/>
<line class="ax" x1="61" y1="2884" x2="723" y2="2884"/>
<g class="tkr"><text x="54" y="2734">4.60</text><text x="54" y="2756">4.50</text><text x="54" y="2778">4.40</text><text x="54" y="2800">4.30</text><text x="54" y="2822">4.20</text><text x="54" y="2844">4.10</text><text x="54" y="2866">4.00</text><text x="54" y="2888">3.90</text></g>
<polyline class="r" points="61,2791.6 91.1,2787.2 271.7,2787.2 331.9,2800.4 392.1,2796 452.3,2802.6 512.5,2802.6 693.1,2800.4"/>
<polyline style="stroke:#1f3a7a;stroke-width:2.6;fill:none" points="61,2843.3 91.1,2842.2 271.7,2844.4 331.9,2855.4 392.1,2844.4 452.3,2855.4 512.5,2846.6 693.1,2846.6"/>
<polyline style="stroke:#888;stroke-width:2.6;fill:none" points="61,2798.2 91.1,2798.2 271.7,2798.2 331.9,2809.2 392.1,2796 452.3,2802.6 512.5,2787.2 693.1,2787.2"/>
<g fill="#e04040"><circle cx="91.1" cy="2787.2" r="4"/><circle cx="271.7" cy="2787.2" r="4"/><circle cx="331.9" cy="2800.4" r="4"/><circle cx="392.1" cy="2796" r="4"/><circle cx="452.3" cy="2802.6" r="4"/><circle cx="512.5" cy="2802.6" r="4"/><circle cx="693.1" cy="2800.4" r="4"/></g>
<g fill="#1a2f6e"><circle cx="91.1" cy="2842.2" r="4"/><circle cx="271.7" cy="2844.4" r="4"/><circle cx="331.9" cy="2855.4" r="4"/><circle cx="392.1" cy="2844.4" r="4"/><circle cx="452.3" cy="2855.4" r="4"/><circle cx="512.5" cy="2846.6" r="4"/><circle cx="693.1" cy="2846.6" r="4"/></g>
<g fill="#a0a0a0" stroke="#888"><circle cx="91.1" cy="2798.2" r="4.5"/><circle cx="271.7" cy="2798.2" r="4.5"/><circle cx="331.9" cy="2809.2" r="4.5"/><circle cx="392.1" cy="2796" r="4.5"/><circle cx="452.3" cy="2802.6" r="4.5"/><circle cx="512.5" cy="2787.2" r="4.5"/><circle cx="693.1" cy="2787.2" r="4.5"/></g>
<g class="tk" text-anchor="middle" style="font-size:12px"><text x="91.1" y="2905">11月4日</text><text x="151.3" y="2905">11月5日</text><text x="211.5" y="2905">11月6日</text><text x="271.7" y="2905">11月7日</text><text x="331.9" y="2905">11月8日</text><text x="392.1" y="2905">11月9日</text><text x="452.3" y="2905">11月10日</text><text x="512.5" y="2905">11月11日</text><text x="572.7" y="2905">11月12日</text><text x="632.9" y="2905">11月13日</text><text x="693.1" y="2905">11月14日</text></g>
<g class="gl" style="stroke:#8a8a8a">
<line x1="61" y1="2917" x2="723" y2="2917"/><line x1="15" y1="2939" x2="723" y2="2939"/><line x1="15" y1="2959" x2="723" y2="2959"/><line x1="15" y1="2979" x2="723" y2="2979"/><line x1="15" y1="2998" x2="723" y2="2998"/>
<line x1="15" y1="2939" x2="15" y2="2998"/><line x1="61" y1="2917" x2="61" y2="2998"/><line x1="134.6" y1="2917" x2="134.6" y2="2998"/><line x1="208.2" y1="2917" x2="208.2" y2="2998"/><line x1="281.8" y1="2917" x2="281.8" y2="2998"/><line x1="355.4" y1="2917" x2="355.4" y2="2998"/><line x1="429" y1="2917" x2="429" y2="2998"/><line x1="502.6" y1="2917" x2="502.6" y2="2998"/><line x1="576.2" y1="2917" x2="576.2" y2="2998"/><line x1="649.8" y1="2917" x2="649.8" y2="2998"/><line x1="723" y1="2917" x2="723" y2="2998"/></g>
<g class="td">
<text x="97.8" y="2932">22/11/2</text><text x="171.4" y="2932">22/11/3</text><text x="245" y="2932">22/11/4</text><text x="318.6" y="2932">22/11/7</text><text x="392.2" y="2932">22/11/8</text><text x="465.8" y="2932">22/11/9</text><text x="539.4" y="2932">22/11/10</text><text x="613" y="2932">22/11/11</text><text x="686.6" y="2932">22/11/14</text>
<text x="97.8" y="2953">4.31</text><text x="171.4" y="2953">4.31</text><text x="245" y="2953">4.34</text><text x="318.6" y="2953">4.34</text><text x="392.2" y="2953">4.28</text><text x="465.8" y="2953">4.30</text><text x="539.4" y="2953">4.27</text><text x="613" y="2953">4.27</text><text x="686.6" y="2953">4.28</text>
<text x="97.8" y="2973">4.06</text><text x="171.4" y="2973">4.06</text><text x="245" y="2973">4.09</text><text x="318.6" y="2973">4.08</text><text x="392.2" y="2973">4.03</text><text x="465.8" y="2973">4.08</text><text x="539.4" y="2973">4.03</text><text x="613" y="2973">4.07</text><text x="686.6" y="2973">4.07</text>
<text x="97.8" y="2993">4.26</text><text x="171.4" y="2993">4.28</text><text x="245" y="2993">4.29</text><text x="318.6" y="2993">4.29</text><text x="392.2" y="2993">4.24</text><text x="465.8" y="2993">4.30</text><text x="539.4" y="2993">4.27</text><text x="613" y="2993">4.34</text><text x="686.6" y="2993">4.34</text></g>
<g class="tl"><text x="17" y="2954">螺矿比</text><text x="17" y="2974">坯矿比</text><text x="17" y="2993">卷矿比</text></g>
<text class="cap" x="143" y="3029" textLength="446" lengthAdjust="spacingAndGlyphs">11月14日螺矿比 4.28涨<tspan fill="#ff0000">0.01</tspan>；坯矿比4.07稳；卷矿比 4.34稳</text>
<line class="hl" x1="0" y1="3036" x2="733" y2="3036"/>

<!-- section 型材 -->
<rect x="0" y="3057" width="22" height="33" fill="#2f5597"/>
<text class="sec" x="35" y="3077" textLength="210" lengthAdjust="spacingAndGlyphs">唐山型材钢厂生产情况</text>
<text class="unit" x="722" y="3073">(万吨)</text>
<line class="hl" x1="0" y1="3099" x2="733" y2="3099"/>

<ellipse cx="252" cy="3240" rx="74" ry="32" fill="#dfe8f4"/>
<text class="wl" x="192" y="3256">LGMI</text>
<text class="wm" x="370" y="3258">www.lgmi.com</text>
<text class="ttl ser" x="322" y="3174" style="font-size:19px">唐山型材钢厂日出货量</text>
<line class="ax" x1="69" y1="3128" x2="69" y2="3369"/>
<line class="ax" x1="69" y1="3369" x2="686" y2="3369"/>
<g class="tkr" style="font-size:10.5px"><text x="61" y="3138">120000</text><text x="61" y="3154">112000</text><text x="61" y="3169">104000</text><text x="61" y="3185">96000</text><text x="61" y="3201">88000</text><text x="61" y="3216">80000</text><text x="61" y="3232">72000</text><text x="61" y="3248">64000</text><text x="61" y="3263">56000</text><text x="61" y="3279">48000</text><text x="61" y="3295">40000</text><text x="61" y="3310">32000</text><text x="61" y="3326">24000</text><text x="61" y="3342">16000</text><text x="61" y="3357">8000</text><text x="61" y="3373">0</text></g>
<g fill="#2f5597">
<rect x="69" y="3301.4" width="18.7" height="67.6"/>
<rect x="87.7" y="3278.9" width="18.7" height="90.1"/>
<rect x="143.8" y="3328.8" width="18.7" height="40.2"/>
<rect x="162.5" y="3287.7" width="18.7" height="81.3"/>
<rect x="181.2" y="3292.6" width="18.7" height="76.4"/>
<rect x="199.9" y="3344.5" width="18.7" height="24.5"/>
<rect x="218.6" y="3221.1" width="18.7" height="147.9"/>
<rect x="274.7" y="3339.6" width="18.7" height="29.4"/>
<rect x="293.4" y="3340.6" width="18.7" height="28.4"/>
<rect x="312.1" y="3260.3" width="18.7" height="108.7"/>
<rect x="330.8" y="3332.8" width="18.7" height="36.2"/>
<rect x="349.5" y="3356.3" width="18.7" height="12.7"/>
<rect x="424.3" y="3348.4" width="18.7" height="20.6"/>
<rect x="443" y="3190.7" width="18.7" height="178.3"/>
<rect x="461.7" y="3303.4" width="18.7" height="65.6"/>
<rect x="480.4" y="3266.2" width="18.7" height="102.8"/>
<rect x="499.1" y="3258.3" width="18.7" height="110.7"/>
<rect x="555.2" y="3356.3" width="18.7" height="12.7"/>
<rect x="573.9" y="3278.9" width="18.7" height="90.1"/>
<rect x="592.6" y="3295" width="18.7" height="74"/>
<rect x="611.3" y="3332.8" width="18.7" height="36.2"/>
<rect x="630" y="3180" width="18.7" height="189"/>
<rect x="667.4" y="3304.8" width="18.7" height="64.2"/>
</g>
<g class="tk" text-anchor="end" style="font-size:10px">
<text transform="translate(82,3373) rotate(-90)">10月13日</text><text transform="translate(100.7,3373) rotate(-90)">10月14日</text><text transform="translate(119.4,3373) rotate(-90)">10月15日</text><text transform="translate(138.1,3373) rotate(-90)">10月16日</text><text transform="translate(156.8,3373) rotate(-90)">10月17日</text><text transform="translate(175.5,3373) rotate(-90)">10月18日</text><text transform="translate(194.2,3373) rotate(-90)">10月19日</text><text transform="translate(212.9,3373) rotate(-90)">10月20日</text><text transform="translate(231.6,3373) rotate(-90)">10月21日</text><text transform="translate(250.3,3373) rotate(-90)">10月22日</text><text transform="translate(269,3373) rotate(-90)">10月23日</text><text transform="translate(287.7,3373) rotate(-90)">10月24日</text><text transform="translate(306.4,3373) rotate(-90)">10月25日</text><text transform="translate(325.1,3373) rotate(-90)">10月26日</text><text transform="translate(343.8,3373) rotate(-90)">10月27日</text><text transform="translate(362.5,3373) rotate(-90)">10月28日</text><text transform="translate(381.2,3373) rotate(-90)">10月29日</text><text transform="translate(399.9,3373) rotate(-90)">10月30日</text><text transform="translate(418.6,3373) rotate(-90)">10月31日</text><text transform="translate(437.3,3373) rotate(-90)">11月1日</text><text transform="translate(456,3373) rotate(-90)">11月2日</text><text transform="translate(474.7,3373) rotate(-90)">11月3日</text><text transform="translate(493.4,3373) rotate(-90)">11月4日</text><text transform="translate(512.1,3373) rotate(-90)">11月5日</text><text transform="translate(530.8,3373) rotate(-90)">11月6日</text><text transform="translate(549.5,3373) rotate(-90)">11月7日</text><text transform="translate(568.2,3373) rotate(-90)">11月8日</text><text transform="translate(586.9,3373) rotate(-90)">11月9日</text><text transform="translate(605.6,3373) rotate(-90)">11月10日</text><text transform="translate(624.3,3373) rotate(-90)">11月11日</text><text transform="translate(643,3373) rotate(-90)">11月12日</text><text transform="translate(661.7,3373) rotate(-90)">11月13日</text><text transform="translate(680.4,3373) rotate(-90)">11月14日</text></g>

<text class="p" x="4" y="3464" textLength="643" lengthAdjust="spacingAndGlyphs">11月14日  唐山24家型材钢厂出货总量约3.28万吨，较上周五个交易日均值减少约0.84万吨。</text>
<line x1="77" y1="3442" x2="77" y2="3474" stroke="#ccd" stroke-width="1"/>
<line x1="0" y1="3476" x2="733" y2="3476" stroke="#8fa3c8" stroke-width="1"/>
<text class="p" x="4" y="3496" textLength="722" lengthAdjust="spacingAndGlyphs">14日唐山型材价格稳中盘整，黑色系期螺持红震荡，午前下游询单意愿尚可，午后各方采购需求明显放</text>
<text class="p" x="4" y="3519" textLength="725" lengthAdjust="spacingAndGlyphs">缓，轧钢企业整体交投气氛一般；据统计截止16:00唐山24家型材钢厂出货总量约32750吨，较上五个工</text>
<text class="p" x="4" y="3541" textLength="513" lengthAdjust="spacingAndGlyphs">作日均值降20.47%，其中，工字钢2500吨；槽钢9400吨；角钢20850吨。</text>
<line class="hl" x1="0" y1="3552" x2="733" y2="3552"/>
<text class="p" x="4" y="3572" textLength="721" lengthAdjust="spacingAndGlyphs">兰格钢铁网统计唐山24家样本轧钢企业共36条轧线，在产15条，停产21条，较上周减少2条，开工率为</text>
<text class="p" x="4" y="3595" textLength="722" lengthAdjust="spacingAndGlyphs">41.67%，较上周上涨5.56%，前期厂家开工率较低去库明显，本周生产积极性略有回升，但总体仍处偏</text>
<text class="p" x="4" y="3617" textLength="54" lengthAdjust="spacingAndGlyphs">低水平。</text>
<line class="hl" x1="0" y1="3624" x2="733" y2="3624"/>

<rect x="0" y="3646" width="22" height="30" fill="#2f5597"/>
<text class="sec" x="35" y="3665" textLength="252" lengthAdjust="spacingAndGlyphs">全国主要钢企高炉开工情况</text>
<line class="hl" x1="0" y1="3686" x2="733" y2="3686"/>

<!-- BF chart -->
<ellipse cx="250" cy="3822" rx="76" ry="30" fill="#dfe8f4"/>
<text class="wl" x="190" y="3838">LGMI</text>
<text class="wm" x="373" y="3840">www.lgmi.com</text>
<text class="ttl ser" x="371" y="3714" style="font-size:19px;fill:#555">全国主要钢企高炉开工率</text>
<line class="ax" x1="61" y1="3713" x2="61" y2="3944"/>
<line class="ax" x1="61" y1="3944" x2="699" y2="3944"/>
<g class="tkr"><text x="54" y="3717">85.00</text><text x="54" y="3763">80.00</text><text x="54" y="3809">75.00</text><text x="54" y="3856">70.00</text><text x="54" y="3902">65.00</text><text x="54" y="3948">60.00</text></g>
<polyline style="stroke:#2e5597;stroke-width:3;fill:none;stroke-linejoin:round" points="60.8,3841.7 65.5,3851.6 84.2,3839.2 95.8,3819.4 105.2,3823.3 116.9,3826.8 130,3824.3 135.6,3799.6 140.3,3779.7 147.3,3770.8 161.3,3775.8 168.3,3764.9 175.3,3750 177.7,3746.4 184.7,3752.5 196.4,3755 224.4,3751.5 236,3756 243.1,3758.9 250.1,3755 254.8,3736.6 280.5,3735.3 299.2,3737.5 322.6,3742 336.6,3737.5 357.6,3735.3 367,3741 371.7,3750 374,3755 388,3758.9 406.7,3768.8 423,3769.8 430,3779.7 437.1,3792.1 448.8,3799.6 460.5,3802 476.9,3799.6 490.9,3793.6 502.6,3789.6 514.3,3774.8 533,3764.9 561,3757.4 584.4,3755.9 598.4,3754 621.8,3754 628.8,3759.9 633.5,3767.3 654.5,3770.8 663.9,3771.8 677.9,3782.2 698.9,3790.6"/>
<g class="tk" text-anchor="middle" style="font-size:11px"><text x="62" y="3963">2022/02/10</text><text x="128" y="3963">2022/03/10</text><text x="200" y="3963">2022/04/10</text><text x="270" y="3963">2022/05/10</text><text x="342" y="3963">2022/06/10</text><text x="412" y="3963">2022/07/10</text><text x="484" y="3963">2022/08/10</text><text x="556" y="3963">2022/09/10</text><text x="626" y="3963">2022/10/10</text><text x="698" y="3963">2022/11/10</text></g>
<text class="p" x="3" y="4006" textLength="725" lengthAdjust="spacingAndGlyphs">全国201家生产企业中有82家钢厂共计118座高炉停产，其中在检修有77家110座(上周72家104座)，有6</text>
<text class="p" x="3" y="4029" textLength="725" lengthAdjust="spacingAndGlyphs">家8座高炉不再开启，99座停产高炉总容积为114400立方米，较上周增加8400立方米，按容积计算主要</text>
<text class="p" x="3" y="4052" textLength="364" lengthAdjust="spacingAndGlyphs">钢铁企业高炉开工率为76.56%，较上周降低0.76%。</text>
<text x="3" y="4072" textLength="568" lengthAdjust="spacingAndGlyphs" style="font-size:12.5px;font-weight:bold;fill:#000">注：自7月21日开始，兰格钢铁网对原样本160家571座高炉样本进行更换，新样本为201家650座。</text>
<line class="hl" x1="0" y1="4090" x2="733" y2="4090"/>

<text class="sec" x="35" y="4131" textLength="126" lengthAdjust="spacingAndGlyphs">唐山钢坯成本</text>
<text class="unit" x="722" y="4127">(元/吨)</text>
<line class="hl" x1="0" y1="4152" x2="733" y2="4152"/>

<!-- cost chart -->
<ellipse cx="255" cy="4295" rx="76" ry="56" fill="#dfe8f4"/>
<text class="wl" x="192" y="4312">LGMI</text>
<text class="wm" x="375" y="4318" style="font-size:40px">www.lgmi.com</text>
<text class="ttl ser" x="362" y="4181" style="font-size:18px;fill:#555">钢坯出厂价与钢坯生产成本均价走势对比图</text>
<line x1="252" y1="4201" x2="282" y2="4201" stroke="#c00000" stroke-width="3"/>
<text x="284" y="4206" style="font-size:12px;font-weight:bold;fill:#555">迁安方坯</text>
<line x1="380" y1="4201" x2="410" y2="4201" stroke="#2e5597" stroke-width="3"/>
<text x="412" y="4206" style="font-size:12px;font-weight:bold;fill:#555">钢坯成本均价</text>
<line class="ax" x1="71" y1="4172" x2="71" y2="4411"/>
<line class="ax" x1="71" y1="4411" x2="690" y2="4411"/>
<g class="tkr"><text x="64" y="4176">5100</text><text x="64" y="4196">4950</text><text x="64" y="4216">4800</text><text x="64" y="4236">4650</text><text x="64" y="4256">4500</text><text x="64" y="4276">4350</text><text x="64" y="4295">4200</text><text x="64" y="4315">4050</text><text x="64" y="4335">3900</text><text x="64" y="4355">3750</text><text x="64" y="4375">3600</text><text x="64" y="4395">3450</text><text x="64" y="4415">3300</text></g>
<g transform="translate(0,3750) scale(0.4675,0.4955)">
<polyline vector-effect="non-scaling-stroke" style="stroke:#c00000;stroke-width:2.4;fill:none;stroke-linejoin:round" points="152,908 165,915 185,948 195,940 205,935 215,928 230,932 240,922 250,922 262,935 270,958 282,945 300,945 320,935 335,928 345,950 360,962 365,978 380,968 395,985 415,1015 430,1000 445,1025 490,1025 500,1012 530,1012 545,1005 560,1012 572,1025 578,1045 590,1045 595,1095 610,1115 615,1190 625,1165 640,1172 655,1155 665,1135 675,1138 690,1160 700,1168 720,1168 740,1220 755,1255 762,1305 770,1300 785,1265 805,1265 840,1265 845,1240 860,1225 875,1210 888,1222 905,1210 915,1202 925,1218 940,1212 955,1205 965,1215 975,1235 995,1220 1015,1208 1040,1215 1050,1230 1065,1232 1080,1235 1100,1222 1130,1222 1140,1235 1160,1242 1175,1255 1185,1240 1210,1240 1220,1225 1250,1228 1295,1220 1305,1245 1340,1240 1355,1255 1370,1250 1380,1245 1390,1255 1400,1260 1420,1305 1435,1295 1445,1285 1470,1288 1477,1280"/>
<polyline vector-effect="non-scaling-stroke" style="stroke:#2e5597;stroke-width:2.4;fill:none;stroke-linejoin:round" points="152,986 185,986 190,962 230,962 235,943 270,943 275,930 400,930 405,968 445,968 450,988 490,988 495,995 530,995 535,1015 570,1015 575,1028 615,1028 618,1010 655,1010 660,1045 700,1045 705,1055 740,1055 745,1117 785,1117 790,1183 830,1183 835,1197 875,1197 880,1203 910,1203 915,1260 955,1260 960,1263 997,1263 1002,1230 1040,1230 1045,1238 1080,1238 1085,1245 1105,1245 1130,1237 1170,1237 1175,1235 1210,1235 1215,1247 1295,1247 1300,1207 1340,1207 1345,1210 1380,1210 1385,1207 1420,1207 1425,1217 1465,1217 1470,1250"/>
</g>
<g class="tk" text-anchor="end" style="font-size:10px">
<text transform="translate(75,4416) rotate(-90)">4月6日</text><text transform="translate(95,4416) rotate(-90)">4月13日</text><text transform="translate(115,4416) rotate(-90)">4月20日</text><text transform="translate(135,4416) rotate(-90)">4月27日</text><text transform="translate(155,4416) rotate(-90)">5月4日</text><text transform="translate(175,4416) rotate(-90)">5月11日</text><text transform="translate(195,4416) rotate(-90)">5月18日</text><text transform="translate(215,4416) rotate(-90)">5月25日</text><text transform="translate(235,4416) rotate(-90)">6月1日</text><text transform="translate(255,4416) rotate(-90)">6月8日</text><text transform="translate(275,4416) rotate(-90)">6月15日</text><text transform="translate(295,4416) rotate(-90)">6月22日</text><text transform="translate(315,4416) rotate(-90)">6月29日</text><text transform="translate(335,4416) rotate(-90)">7月6日</text><text transform="translate(355,4416) rotate(-90)">7月13日</text><text transform="translate(375,4416) rotate(-90)">7月20日</text><text transform="translate(395,4416) rotate(-90)">7月27日</text><text transform="translate(415,4416) rotate(-90)">8月3日</text><text transform="translate(435,4416) rotate(-90)">8月10日</text><text transform="translate(455,4416) rotate(-90)">8月17日</text><text transform="translate(475,4416) rotate(-90)">8月24日</text><text transform="translate(495,4416) rotate(-90)">8月31日</text><text transform="translate(515,4416) rotate(-90)">9月7日</text><text transform="translate(535,4416) rotate(-90)">9月14日</text><text transform="translate(555,4416) rotate(-90)">9月21日</text><text transform="translate(575,4416) rotate(-90)">9月28日</text><text transform="translate(595,4416) rotate(-90)">10月5日</text><text transform="translate(615,4416) rotate(-90)">10月12日</text><text transform="translate(635,4416) rotate(-90)">10月19日</text><text transform="translate(655,4416) rotate(-90)">10月26日</text><text transform="translate(675,4416) rotate(-90)">11月2日</text><text transform="translate(695,4416) rotate(-90)">11月9日</text></g>
<text class="p" x="3" y="4508" textLength="674" lengthAdjust="spacingAndGlyphs">本周（11月9日）唐山地区样本长流程钢厂，钢坯含税累计成本均值为3615元，较上期降126元。</text>
</svg>
</body></html>
